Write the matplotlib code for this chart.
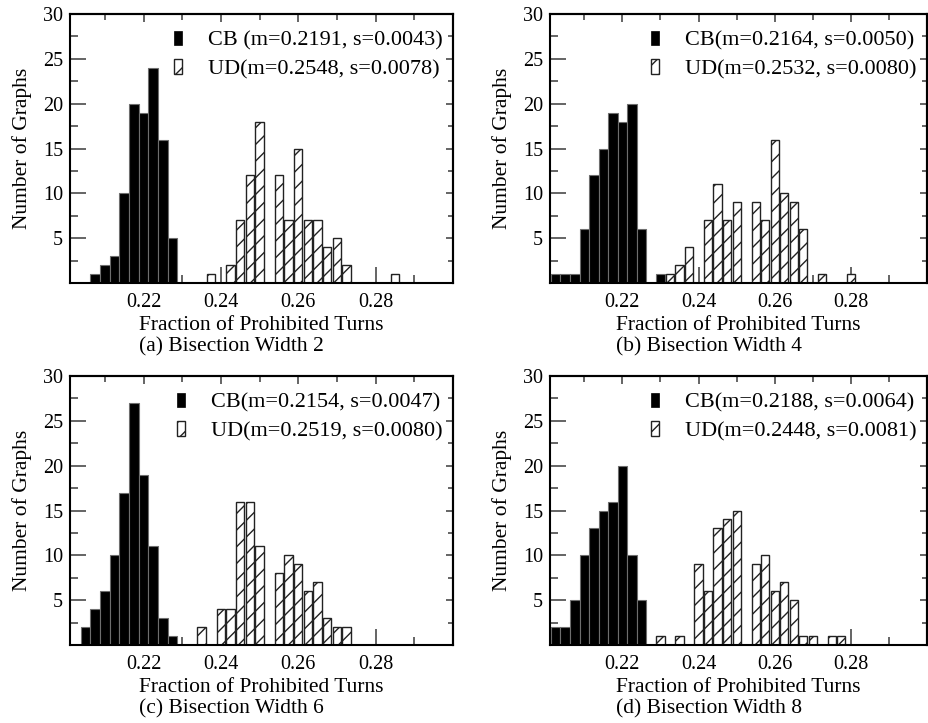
import matplotlib
matplotlib.use('Agg')
import matplotlib.pyplot as plt
from matplotlib.patches import Patch

plt.rcParams['font.family'] = ['Liberation Serif', 'DejaVu Serif']
plt.rcParams['hatch.linewidth'] = 1.0
plt.rcParams['hatch.color'] = 'black'

BIN = 0.0025

# ---- data (bin centres and counts) ----
a_cb_x = [0.2075, 0.21, 0.2125, 0.215, 0.2175, 0.22, 0.2225, 0.225, 0.2275]
a_cb_y = [1, 2, 3, 10, 20, 19, 24, 16, 5]
a_ud_x = [0.2375, 0.2425, 0.245, 0.2475, 0.25, 0.255, 0.2575, 0.26, 0.2625,
          0.265, 0.2675, 0.27, 0.2725, 0.285]
a_ud_y = [1, 2, 7, 12, 18, 12, 7, 15, 7, 7, 4, 5, 2, 1]

b_cb_x = [0.2025, 0.205, 0.2075, 0.21, 0.2125, 0.215, 0.2175, 0.22, 0.2225,
          0.225, 0.23]
b_cb_y = [1, 1, 1, 6, 12, 15, 19, 18, 20, 6, 1]
b_ud_x = [0.2325, 0.235, 0.2375, 0.2425, 0.245, 0.2475, 0.25, 0.255, 0.2575,
          0.26, 0.2625, 0.265, 0.2675, 0.2725, 0.28]
b_ud_y = [1, 2, 4, 7, 11, 7, 9, 9, 7, 16, 10, 9, 6, 1, 1]

c_cb_x = [0.205, 0.2075, 0.21, 0.2125, 0.215, 0.2175, 0.22, 0.2225, 0.225,
          0.2275]
c_cb_y = [2, 4, 6, 10, 17, 27, 19, 11, 3, 1]
c_ud_x = [0.235, 0.24, 0.2425, 0.245, 0.2475, 0.25, 0.255, 0.2575, 0.26,
          0.2625, 0.265, 0.2675, 0.27, 0.2725]
c_ud_y = [2, 4, 4, 16, 16, 11, 8, 10, 9, 6, 7, 3, 2, 2]

d_cb_x = [0.2025, 0.205, 0.2075, 0.21, 0.2125, 0.215, 0.2175, 0.22, 0.2225,
          0.225]
d_cb_y = [2, 2, 5, 10, 13, 15, 16, 20, 10, 5]
d_ud_x = [0.23, 0.235, 0.24, 0.2425, 0.245, 0.2475, 0.25, 0.255, 0.2575,
          0.26, 0.2625, 0.265, 0.2675, 0.27, 0.275, 0.2775]
d_ud_y = [1, 1, 9, 6, 13, 14, 15, 9, 10, 6, 7, 5, 1, 1, 1, 1]

cb_labels = ["CB (m=0.2191, s=0.0043)", "CB(m=0.2164, s=0.0050)",
             "CB(m=0.2154, s=0.0047)", "CB(m=0.2188, s=0.0064)"]
ud_labels = ["UD(m=0.2548, s=0.0078)", "UD(m=0.2532, s=0.0080)",
             "UD(m=0.2519, s=0.0080)", "UD(m=0.2448, s=0.0081)"]
captions = ["(a) Bisection Width 2", "(b) Bisection Width 4",
            "(c) Bisection Width 6", "(d) Bisection Width 8"]
x_label = "Fraction of Prohibited Turns"
y_label = "Number of Graphs"
x_major = [0.22, 0.24, 0.26, 0.28]
x_minor = [0.21, 0.23, 0.25, 0.27, 0.29]
y_major = [5, 10, 15, 20, 25, 30]
y_minor = [2.5, 7.5, 12.5, 17.5, 22.5, 27.5]

panels = [(a_cb_x, a_cb_y, a_ud_x, a_ud_y),
          (b_cb_x, b_cb_y, b_ud_x, b_ud_y),
          (c_cb_x, c_cb_y, c_ud_x, c_ud_y),
          (d_cb_x, d_cb_y, d_ud_x, d_ud_y)]

W, H = 929, 723
fig = plt.figure(figsize=(W / 100, H / 100), dpi=100)

# axes boxes in pixels (left, top, right, bottom)
boxes = [(70, 14, 453, 283), (550, 14, 927, 283),
         (70, 376, 453, 645), (550, 376, 927, 645)]

TICKC = '#3a3a3a'
axes = []
for i, (cbx, cby, udx, udy) in enumerate(panels):
    l, t, r, b = boxes[i]
    ax = fig.add_axes([l / W, (H - b) / H, (r - l) / W, (b - t) / H])
    axes.append(ax)
    ax.bar(cbx, cby, width=BIN, color='black', edgecolor='#6e6e6e',
           linewidth=0.8, zorder=2)
    ax.bar(udx, udy, width=BIN * 0.86, color='white', edgecolor='#222222',
           linewidth=1.0, hatch='//', zorder=2)
    ax.set_xlim(0.201, 0.30)
    ax.set_ylim(0, 30)
    ax.set_xticks(x_major)
    ax.set_xticks(x_minor, minor=True)
    ax.set_yticks(y_major)
    ax.set_yticks(y_minor, minor=True)
    ax.set_xticklabels([f"{v:.2f}" for v in x_major])
    ax.set_yticklabels([str(v) for v in y_major])
    ax.tick_params(which='both', direction='in', top=False, right=False,
                   color=TICKC, width=1.1, labelsize=14.5, zorder=5)
    ax.tick_params(which='major', length=11.5)
    ax.tick_params(which='minor', length=5.8)
    ax.tick_params(axis='y', pad=5)
    ax.tick_params(axis='x', pad=7)
    for s in ax.spines.values():
        s.set_linewidth(1.5)
        s.set_zorder(6)

    sx = ax.secondary_xaxis('top')
    sx.set_xticks(x_major)
    sx.set_xticks(x_minor, minor=True)
    sx.tick_params(which='both', direction='in', color=TICKC, width=1.1,
                   labeltop=False, labelbottom=False)
    sx.tick_params(which='major', length=6)
    sx.tick_params(which='minor', length=4.3)
    sx.spines['top'].set_linewidth(1.5)

    sy = ax.secondary_yaxis('right')
    sy.set_yticks(y_major)
    sy.set_yticks(y_minor, minor=True)
    sy.tick_params(which='both', direction='in', color=TICKC, width=1.1,
                   labelright=False, labelleft=False)
    sy.tick_params(which='major', length=5)
    sy.tick_params(which='minor', length=3.6)
    sy.spines['right'].set_linewidth(1.5)

    ax.set_xlabel(x_label, fontsize=15.5, labelpad=3)
    ax.set_ylabel(y_label, fontsize=15.5, labelpad=8)

    handles = [Patch(facecolor='black', edgecolor='black', linewidth=0.5),
               Patch(facecolor='white', edgecolor='#222222', hatch='//',
                     linewidth=1.0)]
    leg = ax.legend(handles, [cb_labels[i], ud_labels[i]], loc='upper right',
                    bbox_to_anchor=(0.972, 0.937), frameon=False,
                    fontsize=16, handlelength=0.38, handleheight=0.62,
                    handletextpad=1.15, labelspacing=0.38, borderaxespad=0,
                    borderpad=0)

fig.canvas.draw()
renderer = fig.canvas.get_renderer()
for i, ax in enumerate(axes):
    bb = ax.xaxis.label.get_window_extent(renderer)
    x0 = bb.x0 / W
    l, t, r, b = boxes[i]
    ycap = (H - (b + 64)) / H
    fig.text(x0, ycap, captions[i], fontsize=15.5, ha='left', va='center')

fig.savefig('out.png', dpi=100)
